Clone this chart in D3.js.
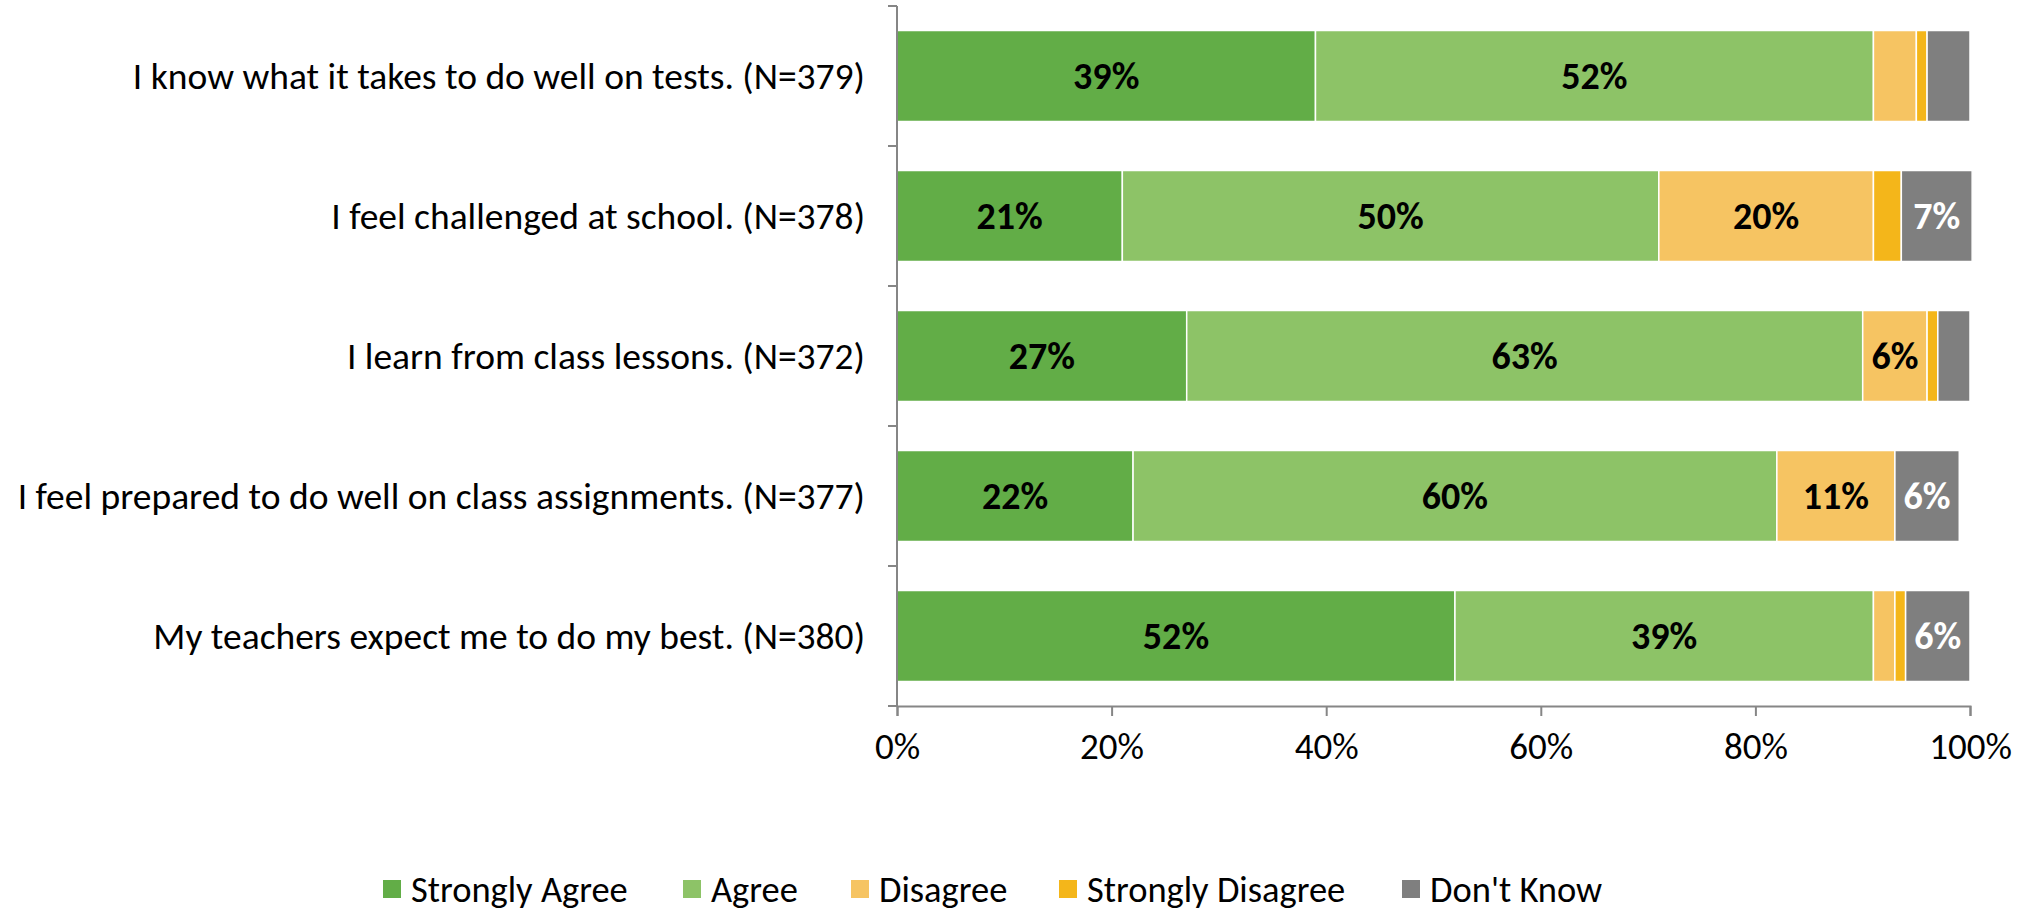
<!DOCTYPE html>
<html>
<head>
<meta charset="utf-8">
<script src="https://cdn.jsdelivr.net/npm/d3@7"></script>
<style>
  html, body { margin: 0; padding: 0; background: #fff; }
  svg { display: block; }
</style>
</head>
<body>
<div id="chart"></div>
<script>
// Stacked 100% bars — survey responses
const width = 2030, height = 911;
const FONT = "Carlito, Calibri, Lato, 'Liberation Sans', sans-serif";

const categories = [
  'I know what it takes to do well on tests. (N=379)',
  'I feel challenged at school. (N=378)',
  'I learn from class lessons. (N=372)',
  'I feel prepared to do well on class assignments. (N=377)',
  'My teachers expect me to do my best. (N=380)'
];
const seriesNames = ['Strongly Agree', 'Agree', 'Disagree', 'Strongly Disagree', "Don't Know"];
const seriesColors = ['#62AD47', '#8DC367', '#F6C462', '#F4B61A', '#7F7F7F'];
const labelColors = ['#000', '#000', '#000', '#000', '#fff'];

const stronglyAgree    = [39, 21, 27, 22, 52];
const agree            = [52, 50, 63, 60, 39];
const disagree         = [4, 20, 6, 11, 2];
const stronglyDisagree = [1, 2.6, 1, 0, 1];
const dontKnow         = [4, 6.6, 3, 6, 6];

const xTicks = [0, 20, 40, 60, 80, 100];

const seriesValues = [stronglyAgree, agree, disagree, stronglyDisagree, dontKnow];

const rows = categories.map(function(c, i) {
  const r = { cat: c };
  seriesNames.forEach(function(s, k) { r[s] = seriesValues[k][i]; });
  return r;
});
const stacked = d3.stack().keys(seriesNames)(rows);

const M = { left: 897, right: 60, top: 6, bottom: 205 };
const x = d3.scaleLinear().domain([0, 100]).range([M.left, width - M.right]);
const y = d3.scaleBand().domain(categories).range([M.top, height - M.bottom]).paddingInner(0.35).paddingOuter(0.175);

const svg = d3.select('#chart').append('svg')
  .attr('width', width).attr('height', height);

// Bars
const layers = svg.append('g').selectAll('g')
  .data(stacked).join('g')
  .attr('fill', function(d, k) { return seriesColors[k]; });

layers.selectAll('rect')
  .data(function(d) { return d; })
  .join('rect')
  .attr('x', function(d) { return x(d[0]); })
  .attr('y', function(d) { return y(d.data.cat); })
  .attr('width', function(d) { return Math.max(0, x(d[1]) - x(d[0])); })
  .attr('height', y.bandwidth())
  .attr('stroke', '#fff')
  .attr('stroke-width', 1.5);

// Data labels (only for the wider segments)
layers.each(function(layer, k) {
  d3.select(this).selectAll('text')
    .data(layer.filter(function(d) { return d[1] - d[0] >= 5; }))
    .join('text')
    .attr('x', function(d) { return (x(d[0]) + x(d[1])) / 2; })
    .attr('y', function(d) { return y(d.data.cat) + y.bandwidth() / 2; })
    .attr('dy', '0.35em')
    .attr('text-anchor', 'middle')
    .attr('fill', labelColors[k])
    .attr('font-family', FONT)
    .attr('font-weight', 'bold')
    .attr('font-size', 38)
    .text(function(d) { return Math.round(d[1] - d[0]) + '%'; });
});

// Y axis
const yAxis = svg.append('g')
  .attr('transform', 'translate(' + M.left + ',0)');
yAxis.append('line')
  .attr('x1', 0).attr('x2', 0)
  .attr('y1', M.top).attr('y2', height - M.bottom)
  .attr('stroke', '#868686').attr('stroke-width', 2);
const yEdges = categories.map(function(c) { return y(c) - y.step() * y.paddingInner() / 2; });
yEdges.push(height - M.bottom);
yAxis.selectAll('.tick')
  .data(yEdges).join('line')
  .attr('x1', -9).attr('x2', 0)
  .attr('y1', function(d) { return d; }).attr('y2', function(d) { return d; })
  .attr('stroke', '#868686').attr('stroke-width', 2);
yAxis.selectAll('text')
  .data(categories).join('text')
  .attr('x', -32)
  .attr('y', function(d) { return y(d) + y.bandwidth() / 2; })
  .attr('dy', '0.35em')
  .attr('text-anchor', 'end')
  .attr('font-family', FONT)
  .attr('font-size', 37.5)
  .attr('fill', '#000')
  .text(function(d) { return d; });

// X axis
const xAxis = svg.append('g')
  .attr('transform', 'translate(0,' + (height - M.bottom) + ')')
  .call(d3.axisBottom(x).tickValues(xTicks).tickSize(10).tickPadding(17)
    .tickFormat(function(d) { return d + '%'; }));
xAxis.select('.domain').attr('stroke', '#868686').attr('stroke-width', 2);
xAxis.selectAll('.tick line').attr('stroke', '#868686').attr('stroke-width', 2);
xAxis.selectAll('.tick text')
  .attr('font-family', FONT)
  .attr('font-size', 37)
  .attr('fill', '#000');

// Legend
const legendX = [383, 683, 851, 1059, 1402];
const legend = svg.append('g').attr('transform', 'translate(0,889)');
seriesNames.forEach(function(s, k) {
  const g = legend.append('g').attr('transform', 'translate(' + legendX[k] + ',0)');
  g.append('rect').attr('x', 0).attr('y', -9).attr('width', 18).attr('height', 18).attr('fill', seriesColors[k]);
  g.append('text')
    .attr('x', 28).attr('y', 0).attr('dy', '0.35em')
    .attr('font-family', FONT)
    .attr('font-size', 36.5)
    .attr('fill', '#000')
    .text(s);
});
</script>
</body>
</html>
